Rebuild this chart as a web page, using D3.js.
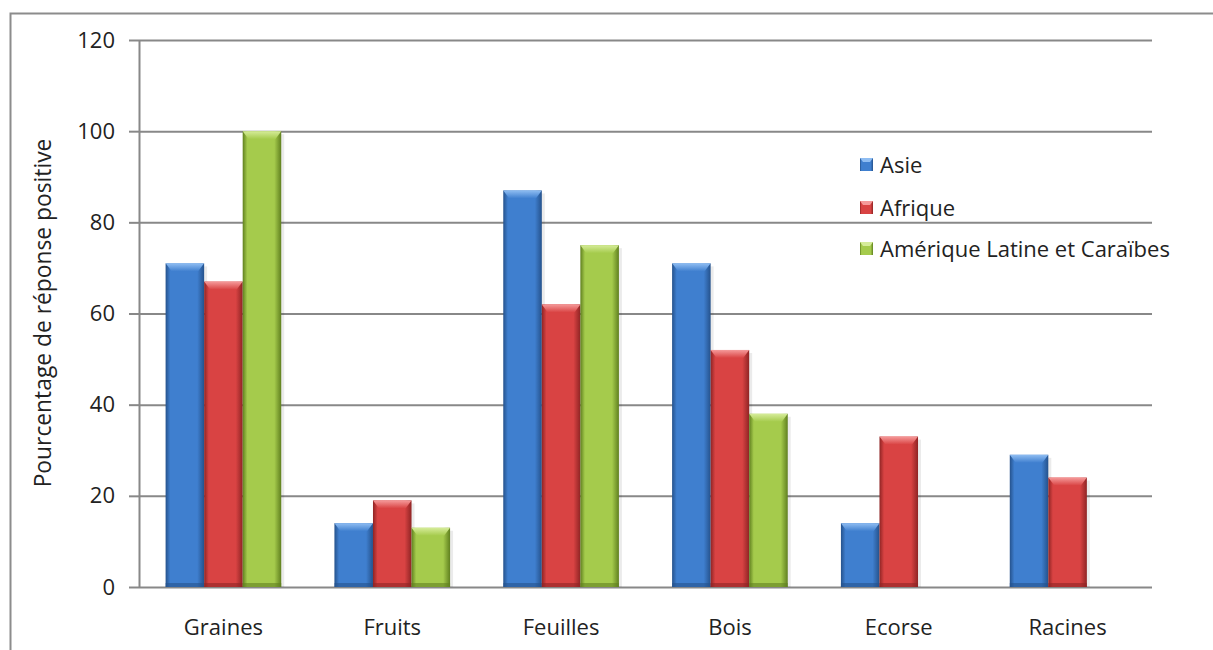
<!DOCTYPE html>
<html>
<head>
<meta charset="utf-8">
<script src="https://cdn.jsdelivr.net/npm/d3@7.9.0/dist/d3.min.js"></script>
<style>
  body { margin: 0; background: #fff; }
  svg { display: block; font-family: "Open Sans", "Noto Sans", sans-serif; }
</style>
</head>
<body>
<div id="chart"></div>
<script>
const categories = ["Graines", "Fruits", "Feuilles", "Bois", "Ecorse", "Racines"];
const seriesNames = ["Asie", "Afrique", "Amérique Latine et Caraïbes"];
const asie = [71, 14, 87, 71, 14, 29];
const afrique = [67, 19, 62, 52, 33, 24];
const amerique = [100, 13, 75, 38, 0, 0];
const yTicks = [0, 20, 40, 60, 80, 100, 120];

const seriesValues = [asie, afrique, amerique];
const colors = [
  { mid: "#3f7fcf", dark: "#25528c", light: "#8fbdf2" },
  { mid: "#d94343", dark: "#8f2424", light: "#f59a9a" },
  { mid: "#a5cb4c", dark: "#60801f", light: "#d6ec9a" },
];

const width = 1213;
const height = 650;
const plot = { left: 139, right: 1152, top: 40, bottom: 587 };
const fontSize = 22;

const svg = d3.select("#chart").append("svg")
  .attr("width", width)
  .attr("height", height);

const defs = svg.append("defs");
colors.forEach((c, i) => {
  const g = defs.append("linearGradient").attr("id", "grad" + i)
    .attr("x1", 0).attr("x2", 1).attr("y1", 0).attr("y2", 0);
  g.append("stop").attr("offset", "0%").attr("stop-color", c.dark);
  g.append("stop").attr("offset", "12%").attr("stop-color", c.mid);
  g.append("stop").attr("offset", "82%").attr("stop-color", c.mid);
  g.append("stop").attr("offset", "100%").attr("stop-color", c.dark);
  const v = defs.append("linearGradient").attr("id", "vgrad" + i)
    .attr("x1", 0).attr("x2", 0).attr("y1", 0).attr("y2", 1);
  v.append("stop").attr("offset", "0%").attr("stop-color", c.light);
  v.append("stop").attr("offset", "100%").attr("stop-color", c.mid);
});

// outer frame
svg.append("rect")
  .attr("x", 10.5).attr("y", 13.5)
  .attr("width", width + 20).attr("height", height + 20)
  .attr("fill", "none").attr("stroke", "#8c8c8c").attr("stroke-width", 2);

const x0 = d3.scaleBand().domain(categories).range([plot.left, plot.right]).paddingInner(0).paddingOuter(0);
const x1 = d3.scaleBand().domain(d3.range(3)).range([0, x0.bandwidth()]).paddingInner(0).paddingOuter(0.69);
const y = d3.scaleLinear().domain([0, 120]).range([plot.bottom, plot.top]);

// gridlines
svg.append("g")
  .attr("transform", `translate(${plot.left},0)`)
  .call(d3.axisLeft(y).tickValues(yTicks).tickFormat("").tickSize(-(plot.right - plot.left)).tickSizeOuter(0))
  .call(g => g.select(".domain").remove())
  .call(g => g.selectAll("line").attr("stroke", "#888").attr("stroke-width", 2));

// y axis
const yAxis = svg.append("g")
  .attr("transform", `translate(${plot.left},0)`)
  .call(d3.axisLeft(y).tickValues(yTicks).tickSize(10).tickPadding(14).tickSizeOuter(0));
yAxis.select(".domain").attr("stroke", "#888").attr("stroke-width", 2);
yAxis.selectAll("line").attr("stroke", "#888").attr("stroke-width", 2);
yAxis.attr("font-size", fontSize).attr("font-family", "Open Sans, sans-serif");
yAxis.selectAll("text").attr("fill", "#222");

// bars
const groups = svg.append("g").selectAll("g")
  .data(categories)
  .join("g")
  .attr("transform", d => `translate(${x0(d)},0)`);

groups.each(function (cat, ci) {
  const g = d3.select(this);
  seriesValues.forEach((vals, si) => {
    const v = vals[ci];
    if (!v) return;
    const bx = x1(si);
    const bw = x1.bandwidth();
    const top = y(v);
    const h = y(0) - top;
    g.append("rect")
      .attr("x", bx + 3).attr("y", top + 3)
      .attr("width", bw).attr("height", h - 3)
      .attr("fill", "#000").attr("opacity", 0.08);
    g.append("rect")
      .attr("x", bx).attr("y", top)
      .attr("width", bw).attr("height", h)
      .attr("fill", `url(#grad${si})`);
    g.append("path")
      .attr("d", `M${bx},${top}h${bw}l-6,8h${-(bw - 12)}z`)
      .attr("fill", `url(#vgrad${si})`);
    g.append("rect")
      .attr("x", bx).attr("y", y(0) - 4)
      .attr("width", bw).attr("height", 4)
      .attr("fill", colors[si].dark).attr("opacity", 0.6);
  });
});

// x axis labels
const xAxis = svg.append("g")
  .attr("transform", `translate(0,${plot.bottom})`)
  .call(d3.axisBottom(x0).tickSize(0).tickPadding(32));
xAxis.select(".domain").remove();
xAxis.attr("font-size", fontSize).attr("font-family", "Open Sans, sans-serif");
xAxis.selectAll("text").attr("fill", "#222");

// y title
svg.append("text")
  .attr("transform", "translate(51,313) rotate(-90)")
  .attr("text-anchor", "middle")
  .attr("font-size", 22.8)
  .attr("fill", "#222")
  .text("Pourcentage de réponse positive");

// legend
const legend = svg.append("g");
const legendY = [165, 208, 249];
seriesNames.forEach((name, i) => {
  legend.append("rect")
    .attr("x", 860).attr("y", legendY[i] - 7)
    .attr("width", 13).attr("height", 13)
    .attr("fill", `url(#grad${i})`);
  legend.append("path")
    .attr("d", `M860,${legendY[i] - 7}h13l-3,4h-7z`)
    .attr("fill", colors[i].light);
  legend.append("text")
    .attr("x", 880).attr("y", legendY[i])
    .attr("dy", "0.35em")
    .attr("font-size", fontSize)
    .attr("fill", "#222")
    .text(name);
});
</script>
</body>
</html>
